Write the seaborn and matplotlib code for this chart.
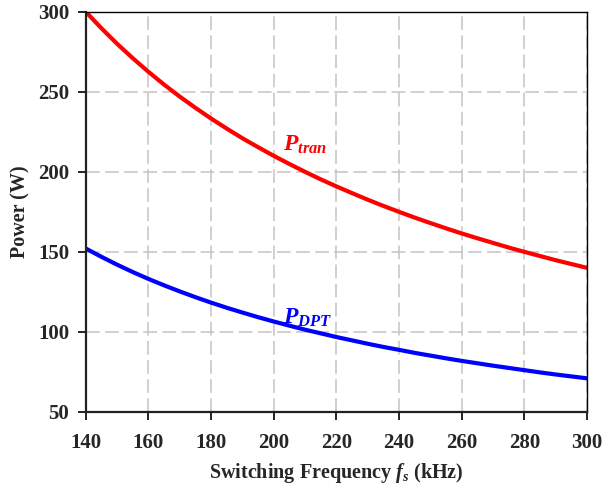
import matplotlib
matplotlib.use("Agg")
import matplotlib.pyplot as plt
import seaborn as sns
import pandas as pd

# Switching frequency (kHz) and power values (W)
freq_khz = [140, 145, 150, 155, 160, 165, 170, 175, 180, 185, 190, 195, 200, 205, 210, 215, 220,
            225, 230, 235, 240, 245, 250, 255, 260, 265, 270, 275, 280, 285, 290, 295, 300]
p_tran = [300.0, 289.7, 280.0, 271.0, 262.5, 254.5, 247.0, 240.0, 233.3, 227.0, 221.0, 215.4,
          210.0, 204.9, 200.0, 195.3, 190.9, 186.7, 182.6, 178.7, 175.0, 171.4, 168.0, 164.7,
          161.5, 158.5, 155.6, 152.7, 150.0, 147.4, 144.8, 142.4, 140.0]
p_dpt = [152.1, 146.9, 142.0, 137.4, 133.1, 129.1, 125.3, 121.7, 118.3, 115.1, 112.1, 109.2,
         106.5, 103.9, 101.4, 99.1, 96.8, 94.7, 92.6, 90.6, 88.8, 86.9, 85.2, 83.5,
         81.9, 80.4, 78.9, 77.5, 76.1, 74.7, 73.4, 72.2, 71.0]

x_ticks = [140, 160, 180, 200, 220, 240, 260, 280, 300]
y_ticks = [50, 100, 150, 200, 250, 300]

df = pd.DataFrame({"f": freq_khz, "tran": p_tran, "dpt": p_dpt})

sns.set_style("white")
plt.rcParams["font.family"] = ["Liberation Serif", "DejaVu Serif"]
plt.rcParams["mathtext.fontset"] = "custom"
plt.rcParams["mathtext.it"] = "Liberation Serif:bold:italic"
plt.rcParams["mathtext.rm"] = "Liberation Serif:bold"
plt.rcParams["mathtext.bf"] = "Liberation Serif:bold"

fig = plt.figure(figsize=(6.04, 4.91), dpi=100)
ax = fig.add_axes([0.142, 0.161, 0.830, 0.815])

line_kw = dict(linewidth=3.0, solid_capstyle="round", solid_joinstyle="round")
sns.lineplot(data=df, x="f", y="tran", ax=ax, color="#ff0000", **line_kw)
sns.lineplot(data=df, x="f", y="dpt", ax=ax, color="#0000ff", **line_kw)

ax.set_xlim(140, 300)
ax.set_ylim(50, 300)
ax.set_xticks(x_ticks)
ax.set_yticks(y_ticks)
ax.grid(True, color="#c4c4c4", linestyle=(0, (9, 3.5)), linewidth=1.1)
ax.set_axisbelow(True)

for side in ["top", "right"]:
    ax.spines[side].set_color("black")
    ax.spines[side].set_linewidth(1.0)
for side in ["left", "bottom"]:
    ax.spines[side].set_color("#222222")
    ax.spines[side].set_linewidth(1.6)

ax.tick_params(axis="both", direction="out", length=6, width=1.4, color="#222222",
               labelsize=15, left=True, bottom=True)
ax.tick_params(axis="x", pad=9)
ax.tick_params(axis="y", pad=6)
for lbl in ax.get_xticklabels() + ax.get_yticklabels():
    lbl.set_fontweight("bold")

ax.set_xlabel(r"Switching Frequency $f_s$ (kHz)", fontsize=14.5, fontweight="bold", labelpad=6)
ax.set_ylabel("Power (W)", fontsize=14.5, fontweight="bold", labelpad=5)

ax.text(203, 213, r"$P_{tran}$", color="#ff0000", fontsize=17)
ax.text(203, 105, r"$P_{DPT}$", color="#0000ff", fontsize=17)

fig.savefig("out.png", dpi=100)
